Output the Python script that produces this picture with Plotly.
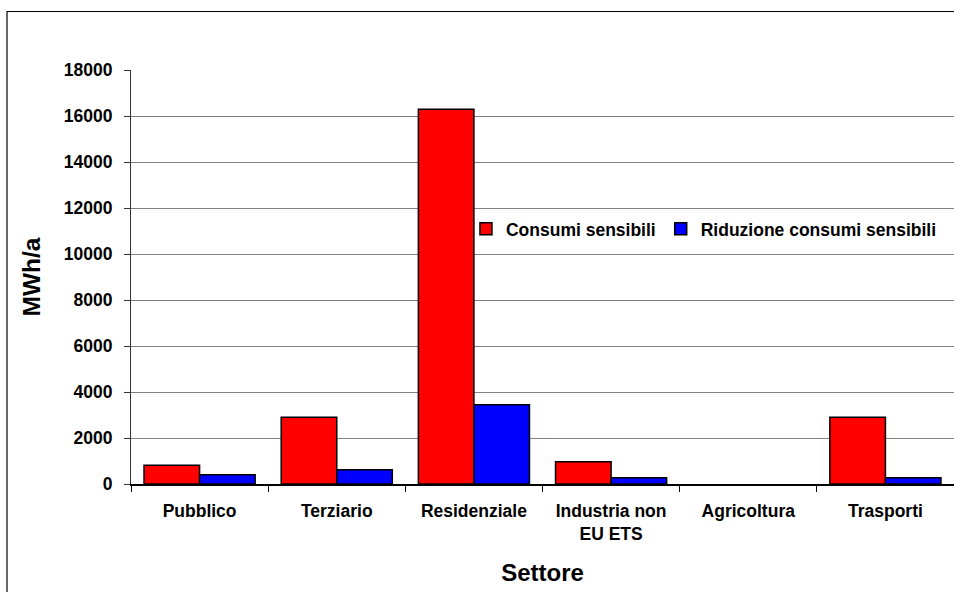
import plotly.graph_objects as go

# Sectors and energy figures (MWh/a)
settori = ["Pubblico", "Terziario", "Residenziale", "Industria non<br>EU ETS", "Agricoltura", "Trasporti"]
consumi_sensibili = [810, 2900, 16290, 970, 0, 2900]
riduzione_consumi = [400, 620, 3450, 275, 0, 275]
y_ticks = list(range(0, 18001, 2000))

FONT = "Liberation Sans, Arial, sans-serif"


def outline_widths(values, w=1.5):
    # zero-height bars get no outline so they leave no stroke on the axis
    return [w if v else 0 for v in values]


fig = go.Figure()
fig.add_trace(go.Bar(
    x=settori, y=consumi_sensibili, name="Consumi sensibili",
    marker=dict(color="#FF0000", line=dict(color="#000000", width=outline_widths(consumi_sensibili))),
))
fig.add_trace(go.Bar(
    x=settori, y=riduzione_consumi, name="Riduzione consumi sensibili",
    marker=dict(color="#0000FF", line=dict(color="#000000", width=outline_widths(riduzione_consumi))),
))

fig.update_layout(
    width=954, height=592,
    margin=dict(l=131, r=0, t=70, b=108),
    paper_bgcolor="white", plot_bgcolor="white",
    barmode="group", bargap=0.19, bargroupgap=0,
    font=dict(family=FONT, color="black"),
    legend=dict(
        orientation="h", x=0.407, xanchor="left", y=0.616, yanchor="middle",
        font=dict(family=FONT, size=17.5, weight="bold", color="black"),
        bgcolor="rgba(0,0,0,0)", itemclick=False,
    ),
    showlegend=True,
)

fig.update_yaxes(
    range=[0, 18000], tickvals=y_ticks, ticktext=[str(v) for v in y_ticks],
    showgrid=True, gridcolor="#808080", gridwidth=1,
    showline=True, linecolor="#333333", linewidth=1,
    ticks="outside", ticklen=6, tickcolor="#333333",
    tickfont=dict(family=FONT, size=17.5, weight="bold", color="black"),
    ticklabelstandoff=8,
    zeroline=False,
    title=dict(text="MWh/a", font=dict(family=FONT, size=24.5, weight="bold", color="black"), standoff=16),
)
fig.update_xaxes(
    type="category", tickson="boundaries", ticks="outside", ticklen=6, tickcolor="#000000",
    showline=True, linecolor="#000000", linewidth=1.5, showgrid=False,
    tickfont=dict(family=FONT, size=17.5, weight="bold", color="black"),
    ticklabelstandoff=10,
    title=dict(text="Settore", font=dict(family=FONT, size=24, weight="bold", color="black"), standoff=22),
)

# Outer chart frame
fig.add_shape(
    type="rect", xref="paper", yref="paper",
    x0=(7 - 131) / 823, x1=1.05, y0=-0.5, y1=(484 - 11.5) / 414,
    line=dict(color="black", width=1.2), fillcolor="rgba(0,0,0,0)", layer="below",
)

fig.write_html("out.html")
